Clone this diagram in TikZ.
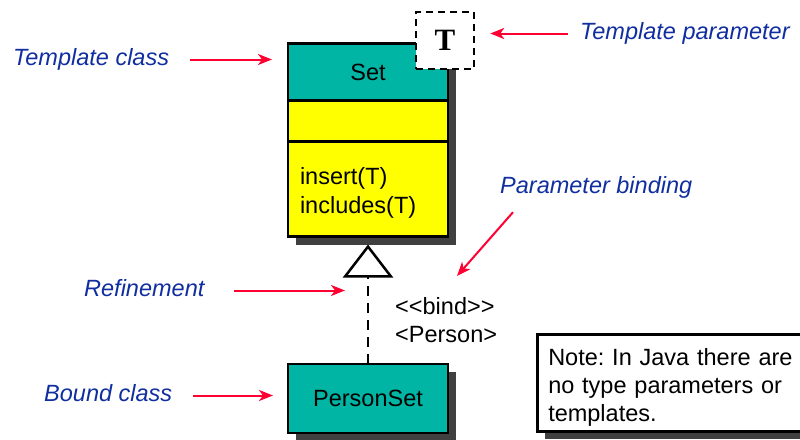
\documentclass[tikz,border=0pt]{standalone}
\usepackage{fontspec}
\setmainfont{Liberation Sans}
\newfontfamily\parmfont{Liberation Serif}
\usetikzlibrary{arrows.meta,positioning,shadows}
\frenchspacing

\definecolor{classteal}{RGB}{0,181,164}
\definecolor{classyellow}{RGB}{255,255,0}
\definecolor{labelblue}{RGB}{16,46,160}
\definecolor{arrowred}{RGB}{255,0,51}
\definecolor{shadowgray}{RGB}{64,64,64}

\begin{document}
\begin{tikzpicture}[x=1pt,y=-1pt,
	every node/.style={font=\fontsize{23.5}{28}\selectfont},
	classbox/.style={draw,line width=2.5pt,outer sep=0pt,minimum width=160pt,
		drop shadow={shadow xshift=8pt,shadow yshift=-8pt,fill=shadowgray,opacity=1}},
	parmbox/.style={draw,fill=white,line width=2.5pt,dash pattern=on 7pt off 5pt,
		minimum width=58pt,minimum height=57pt,inner sep=0pt,
		font=\parmfont\bfseries\fontsize{31}{31}\selectfont},
	notebox/.style={draw,fill=white,line width=2.5pt,minimum width=290pt,minimum height=97pt,
		text width=268pt,align=left,inner xsep=11pt,
		drop shadow={shadow xshift=8pt,shadow yshift=-8pt,fill=shadowgray,opacity=1}},
	lbl/.style={font=\fontsize{23.5}{28}\selectfont\itshape,text=labelblue,inner sep=0pt,
		text height=16pt,text depth=5pt},
	pointer/.style={draw=arrowred,line width=2pt,-{Stealth[length=14pt,width=11pt,inset=4pt]}},
	bindline/.style={line width=2.5pt,dash pattern=on 10pt off 7pt,shorten >=8pt,
		-{Triangle[length=33pt,width=50pt,fill=white]}}]
				\useasboundingbox (0,0) rectangle (800,439);
				\clip (0,0) rectangle (800,439);
				
				\path (368,72) node[classbox,fill=classteal,minimum height=57pt] (setname) {Set};
				\node[classbox,fill=classyellow,minimum height=41pt,below=0pt of setname] (setattr) {};
				\node[classbox,fill=classyellow,minimum height=95pt,below=0pt of setattr,
					text width=136pt,align=left,inner sep=12pt] (setops) {\rule{0pt}{24pt}insert(T)\\[1pt]includes(T)};
				\path ([shift={(-3,-3)}]setname.north east) node[parmbox] (tparam) {T};
				
				\path (368,398.5) node[classbox,fill=classteal,minimum height=69pt] (person) {PersonSet};
				\draw[bindline] (person) -- (setops);
				\path (395,320) node[anchor=west,align=left,inner sep=0pt] (bindtxt) {<{}<bind>{}>\\<Person>};
				
				\path (536,333) node[notebox,anchor=north west] (note) {\rule{0pt}{26pt}Note: In Java there are\\no type parameters or\\templates.};
				
				\path (13,59.5) node[lbl,anchor=west] (lbltclass) {Template class};
				\path (580,33.5) node[lbl,anchor=west] (lbltparam) {Template parameter};
				\path (500,187.5) node[lbl,anchor=west] (lblbind) {Parameter binding};
				\path (84,290.5) node[lbl,anchor=west] (lblrefine) {Refinement};
				\path (44,395.5) node[lbl,anchor=west] (lblbound) {Bound class};
				\coordinate (bindtip) at ([shift={(89,39.5)}]setops.south);
				
				\draw[pointer,shorten <=21pt,shorten >=16pt] (lbltclass.east) -- (lbltclass.east -| setname.west);
				\draw[pointer,shorten <=12pt,shorten >=15pt] (lbltparam.west) -- (lbltparam.west -| tparam.east);
				\draw[pointer] ([shift={(13,14)}]lblbind.south west) -- (bindtip);
				\draw[pointer,shorten <=29pt,shorten >=23pt] (lblrefine.east) -- (lblrefine.east -| setops.south);
				\draw[pointer,shorten <=21pt,shorten >=15pt] (lblbound.east) -- (lblbound.east -| person.west);
				\end{tikzpicture}
\end{document}
